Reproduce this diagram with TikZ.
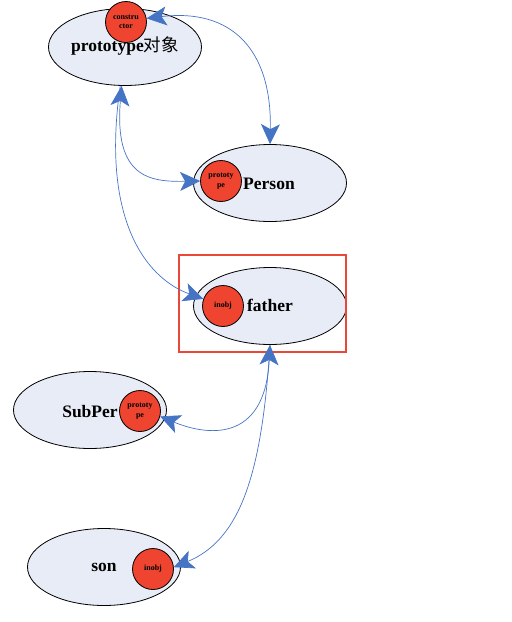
\documentclass[tikz,border=0pt]{standalone}
\usepackage{fontspec}
\setmainfont{Liberation Serif}
\newfontfamily\cjk{Noto Sans CJK SC}
\usetikzlibrary{shapes.geometric,arrows.meta}
\definecolor{ellfill}{RGB}{232,236,246}
\definecolor{circfill}{RGB}{238,68,48}
\definecolor{arrblue}{RGB}{70,116,196}
\definecolor{boxred}{RGB}{234,72,54}
\tikzset{
  bigell/.style={ellipse,draw=black,fill=ellfill,minimum width=153pt,minimum height=77pt,inner sep=0pt,line width=0.8pt},
  smallc/.style={circle,draw=black,fill=circfill,minimum size=41pt,inner sep=0pt,line width=0.8pt,font=\bfseries\fontsize{8}{9.5}\selectfont,align=center},
  lbl/.style={font=\bfseries\fontsize{17.5}{19}\selectfont,inner sep=0pt},
  conn/.style={draw=arrblue,line width=0.7pt},
  bh/.tip={Stealth[length=20pt,width=19pt,inset=5pt]}
}
\begin{document}
\begin{tikzpicture}[x=1pt,y=-1pt]
\useasboundingbox (0,0) rectangle (512,622);
% ellipses
\node[bigell] (proto) at (125,47) {};
\node[bigell] (person) at (270,183) {};
\node[bigell] (father) at (270,306) {};
\node[bigell] (subper) at (90,410) {};
\node[bigell] (son) at (104,567) {};
% red frame
\node[draw=boxred,line width=1.6pt,minimum width=167pt,minimum height=97pt,inner sep=0pt] (frame) at (262.5,303.5) {};
% labels
\node[lbl] (protolbl) at (125,46) {prototype{\cjk\mdseries 对象}};
\node[lbl] (personlbl) at (269,184) {Person};
\node[lbl] (fatherlbl) at (270,305) {father};
\node[lbl] (subperlbl) at (90,412) {SubPer};
\node[lbl] (sonlbl) at (104,567) {son};
% small circles
\node[smallc] (cons) at (126,22) {constru\\ctor};
\node[smallc] (pcirc) at (221,181) {prototy\\pe};
\node[smallc] (icirc) at (223,306) {inobj};
\node[smallc] (scirc) at (140,411) {prototy\\pe};
\node[smallc] (soncirc) at (153,569) {inobj};
% connectors
\draw[conn,bh-bh] (cons.10) .. controls (232,8) and (272,50) .. (person.north);
\draw[conn,bh-bh] (proto.265) .. controls (114,178) and (150,182) .. (pcirc.west);
\draw[conn,-bh] (proto.263) .. controls (100,225) and (150,280) .. (icirc.160);
\draw[conn,bh-bh] (father.south) .. controls (265,445) and (205,435) .. (scirc.-15);
\draw[conn,-bh] (father.south) .. controls (262,475) and (240,540) .. (soncirc.5);
\end{tikzpicture}
\end{document}
